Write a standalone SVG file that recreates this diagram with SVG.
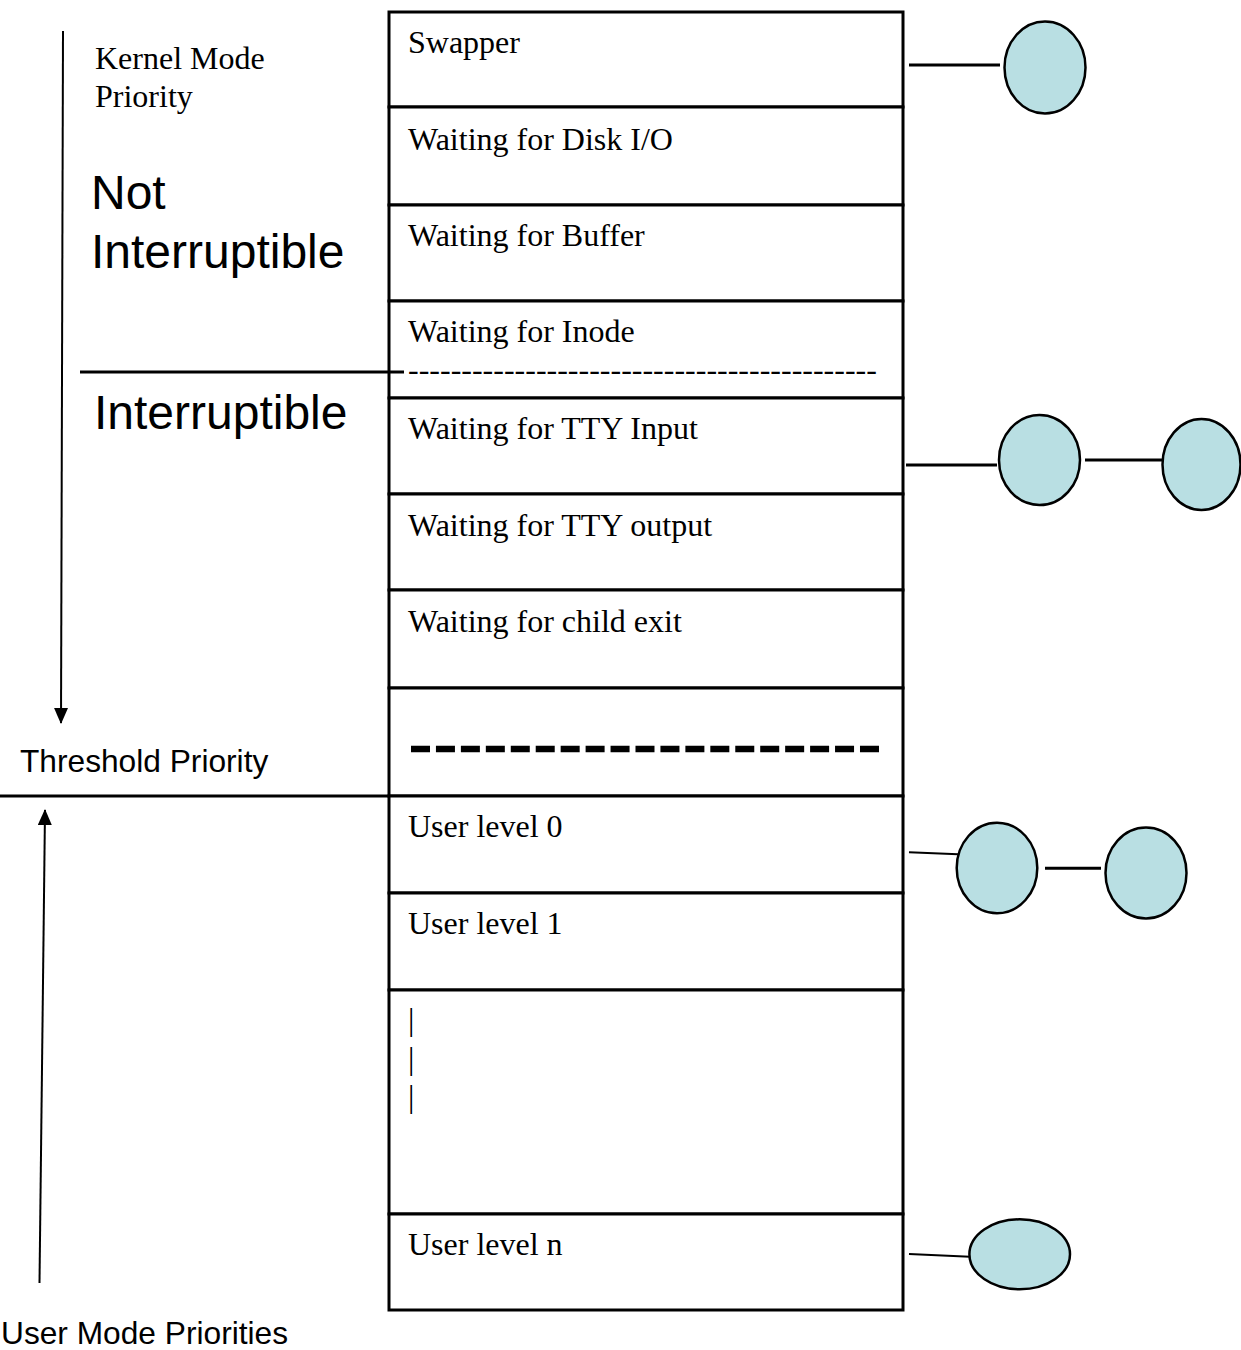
<svg xmlns="http://www.w3.org/2000/svg" width="1241" height="1350" viewBox="0 0 1241 1350">
<defs>
<style>
.serif{font-family:"Liberation Serif","Times New Roman",serif;font-size:32px;fill:#000}
.sans{font-family:"Liberation Sans",Arial,sans-serif;fill:#000}
.row{fill:#fff;stroke:#000;stroke-width:3}
.ell{fill:#B9DFE3;stroke:#000;stroke-width:2.5}
.ln{stroke:#000;stroke-width:3;fill:none}
.thin{stroke:#000;stroke-width:2;fill:none}
</style>
<marker id="ah" markerWidth="16" markerHeight="14" refX="15" refY="7" orient="auto" markerUnits="userSpaceOnUse" viewBox="0 0 16 14">
<path d="M0,0 L16,7 L0,14 Z" fill="#000"/>
</marker>
</defs>

<g id="labels">
<text class="serif" x="95" y="69">Kernel Mode</text>
<text class="serif" x="95" y="107">Priority</text>
<text class="sans" x="91" y="209" font-size="48">Not</text>
<text class="sans" x="91" y="268" font-size="48">Interruptible</text>
<text class="sans" x="94" y="429" font-size="48">Interruptible</text>
<text class="sans" x="20" y="772" font-size="31.7">Threshold Priority</text>
<text class="sans" x="1" y="1344" font-size="31.7">User Mode Priorities</text>
</g>

<g id="table">
<g id="row-swapper"><rect class="row" x="389" y="12" width="514" height="95"/><text class="serif" x="408" y="53">Swapper</text></g>
<g id="row-disk"><rect class="row" x="389" y="107" width="514" height="98"/><text class="serif" x="408" y="150">Waiting for Disk I/O</text></g>
<g id="row-buffer"><rect class="row" x="389" y="205" width="514" height="96"/><text class="serif" x="408" y="246">Waiting for Buffer</text></g>
<g id="row-inode"><rect class="row" x="389" y="301" width="514" height="97"/><text class="serif" x="408" y="342">Waiting for Inode</text><text class="serif" x="408" y="380" fill="#333">--------------------------------------------</text></g>
<g id="row-tty-in"><rect class="row" x="389" y="398" width="514" height="96"/><text class="serif" x="408" y="439">Waiting for TTY Input</text></g>
<g id="row-tty-out"><rect class="row" x="389" y="494" width="514" height="96"/><text class="serif" x="408" y="536">Waiting for TTY output</text></g>
<g id="row-child"><rect class="row" x="389" y="590" width="514" height="98"/><text class="serif" x="408" y="632">Waiting for child exit</text></g>
<g id="row-threshold"><rect class="row" x="389" y="688" width="514" height="108"/><line x1="411" y1="749" x2="879" y2="749" stroke="#000" stroke-width="6.5" stroke-dasharray="19 5.944"/></g>
<g id="row-user0"><rect class="row" x="389" y="796" width="514" height="97"/><text class="serif" x="408" y="837">User level 0</text></g>
<g id="row-user1"><rect class="row" x="389" y="893" width="514" height="97"/><text class="serif" x="408" y="934">User level 1</text></g>
<g id="row-dots"><rect class="row" x="389" y="990" width="514" height="224"/><text class="serif" x="408" y="1030" fill="#444">|</text><text class="serif" x="408" y="1069" fill="#444">|</text><text class="serif" x="408" y="1107" fill="#444">|</text></g>
<g id="row-usern"><rect class="row" x="389" y="1214" width="514" height="96"/><text class="serif" x="408" y="1255">User level n</text></g>
</g>

<g id="nodes">
<ellipse id="p1" class="ell" cx="1045" cy="67.5" rx="40.5" ry="46"/>
<ellipse id="p2" class="ell" cx="1039.5" cy="460" rx="40.5" ry="45"/>
<ellipse id="p3" class="ell" cx="1201.5" cy="464.5" rx="39" ry="45.5"/>
<ellipse id="p4" class="ell" cx="997" cy="868" rx="40.3" ry="45.3"/>
<ellipse id="p5" class="ell" cx="1146" cy="873" rx="40.5" ry="45.5"/>
<ellipse id="p6" class="ell" cx="1019.7" cy="1254.3" rx="50.3" ry="35"/>
</g>

<g id="connectors">
<line class="ln" x1="80" y1="372" x2="404" y2="372"/>
<line class="ln" x1="0" y1="796" x2="389" y2="796"/>
<line class="thin" x1="63" y1="31" x2="61" y2="723" marker-end="url(#ah)"/>
<line class="thin" x1="39.5" y1="1283" x2="45" y2="810" marker-end="url(#ah)"/>
<line class="ln" x1="909" y1="65" x2="1000" y2="65"/>
<line class="ln" x1="906" y1="465" x2="997" y2="465"/>
<line class="ln" x1="1085" y1="460" x2="1162" y2="460"/>
<line class="thin" x1="909" y1="852.3" x2="958" y2="854.3"/>
<line class="ln" x1="1045" y1="868.3" x2="1101" y2="868.3"/>
<line class="thin" x1="909" y1="1254" x2="970" y2="1256.7"/>
</g>
</svg>
